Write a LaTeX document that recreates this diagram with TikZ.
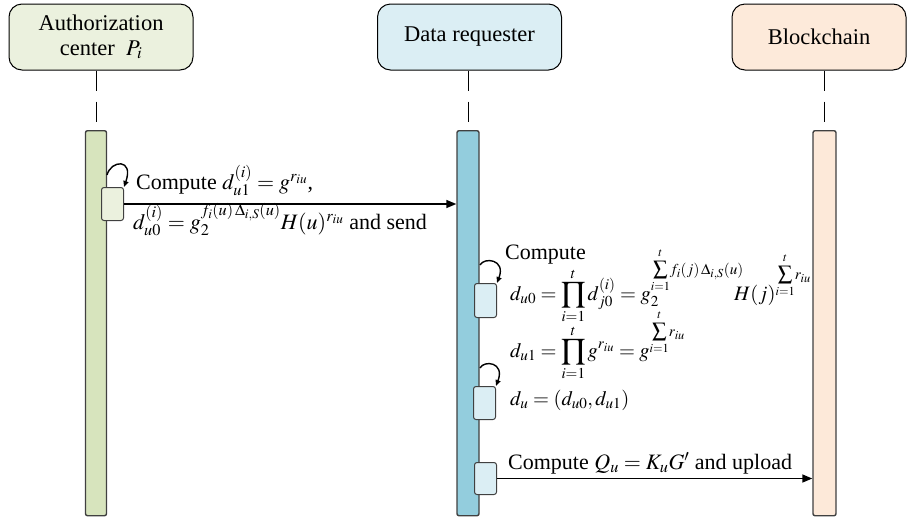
\documentclass[tikz,border=0pt]{standalone}
\usepackage{mathptmx}
\usepackage{fontspec}
\setmainfont{Liberation Serif}
\usetikzlibrary{arrows.meta,calc}
\definecolor{authfill}{HTML}{EBF1DE}
\definecolor{authbar}{HTML}{D7E4BD}
\definecolor{datafill}{HTML}{DBEEF4}
\definecolor{databar}{HTML}{93CDDD}
\definecolor{bcfill}{HTML}{FDEADA}
\definecolor{bcbar}{HTML}{FDE9D9}
\definecolor{bordergray}{HTML}{404040}
\newcommand{\bigexp}[1]{{\textstyle\sum\limits_{\scriptscriptstyle i=1}^{\scriptscriptstyle t}}#1}
\tikzset{
  head/.style={draw=black, line width=1pt, rounded corners=13pt, minimum width=184, minimum height=66, align=center, font=\fontsize{22.5}{25}\selectfont, inner sep=0pt},
  lifebar/.style={draw=bordergray, line width=1.4pt, rounded corners=2pt, minimum width=21, minimum height=385, anchor=north, inner sep=0pt},
  actbox/.style={draw=bordergray, line width=1pt, rounded corners=2.5pt, minimum width=22, minimum height=33, anchor=north west, inner sep=0pt},
  lifeline/.style={draw=black, line width=1pt, dash pattern=on 20pt off 11pt},
  msg/.style={draw=black, line width=1.4pt, -{Triangle[length=10pt,width=8pt]}},
  selfloop/.style={draw=black, line width=1.4pt, -{Triangle[length=6pt,width=5pt]}},
  lbl/.style={anchor=base west, inner sep=0pt, font=\fontsize{22}{26}\selectfont},
  mlbl/.style={anchor=base west, inner sep=0pt, font=\fontsize{20.5}{24}\selectfont}
}
\begin{document}
\begin{tikzpicture}[x=1pt,y=-1pt]
\useasboundingbox (0,0) rectangle (907,523);
% heads
\node[head, fill=authfill] (A) at (101,37) {Authorization\\ center~~$P_i$};
\node[head, fill=datafill] (D) at (469.5,37) {Data requester};
\node[head, fill=bcfill, minimum width=174] (B) at (819,37) {Blockchain};
% bars
\node[lifebar, fill=authbar] (Ab) at (96,130) {};
\node[lifebar, fill=databar, minimum width=22] (Db) at (468,130) {};
\node[lifebar, fill=bcbar, minimum width=23] (Bb) at (824.5,130) {};
% lifelines
\draw[lifeline] (A.south -| Ab.north) -- (Ab.north);
\draw[lifeline] (D.south -| Db.north) -- (Db.north);
\draw[lifeline] (B.south -| Bb.north) -- (Bb.north);
% activation boxes
\node[actbox, fill=authfill] (a1) at (101,187) {};
\node[actbox, fill=datafill, minimum height=34] (d1) at (474,283) {};
\node[actbox, fill=datafill] (d2) at (473,386) {};
\node[actbox, fill=datafill, minimum height=32] (d3) at (474,462) {};
% self loops
\coordinate (la) at ($(a1.north west)+(6,-12)$);
\draw[selfloop] (la) .. controls +(4,-15) and +(10,-29) .. (a1.north east);
\coordinate (ld1) at ($(d1.north west)+(6,-18)$);
\draw[selfloop] (ld1) .. controls +(4,-8) and +(9,-24) .. (d1.north east);
\coordinate (ld2) at ($(d2.north west)+(7,-18)$);
\draw[selfloop] (ld2) .. controls +(4,-8) and +(9,-24) .. (d2.north east);
% messages
\draw[msg] (a1.east) -- (a1.east -| Db.west);
\draw[msg] (d3.east) -- (d3.east -| Bb.west);
% labels
\node[lbl] (t1) at (136,189) {Compute $d_{u1}^{(i)} = g^{r_{iu}}$,};
\node[lbl] (t2) at (133,229) {$d_{u0}^{(i)} = g_2^{f_i(u)\,\Delta_{i,S}(u)}H(u)^{r_{iu}}$ and send};
\node[lbl] (t3) at (505,259) {Compute};
\node[mlbl] (t4) at (510,300) {$d_{u0} = \displaystyle\prod_{i=1}^{t} d_{j0}^{(i)} = g_2^{\bigexp{f_i(j)\,\Delta_{i,S}(u)}}$};
\node[mlbl] (t4b) at (734,300) {$H(j)^{\bigexp{r_{iu}}}$};
\node[mlbl] (t5) at (510,357) {$d_{u1} = \displaystyle\prod_{i=1}^{t} g^{r_{iu}} = g^{\bigexp{r_{iu}}}$};
\node[mlbl] (t6) at (510,405) {$d_{u} = (d_{u0}, d_{u1})$};
\node[lbl] (t7) at (508,469) {Compute $Q_u = K_u G'$ and upload};
\end{tikzpicture}
\end{document}
